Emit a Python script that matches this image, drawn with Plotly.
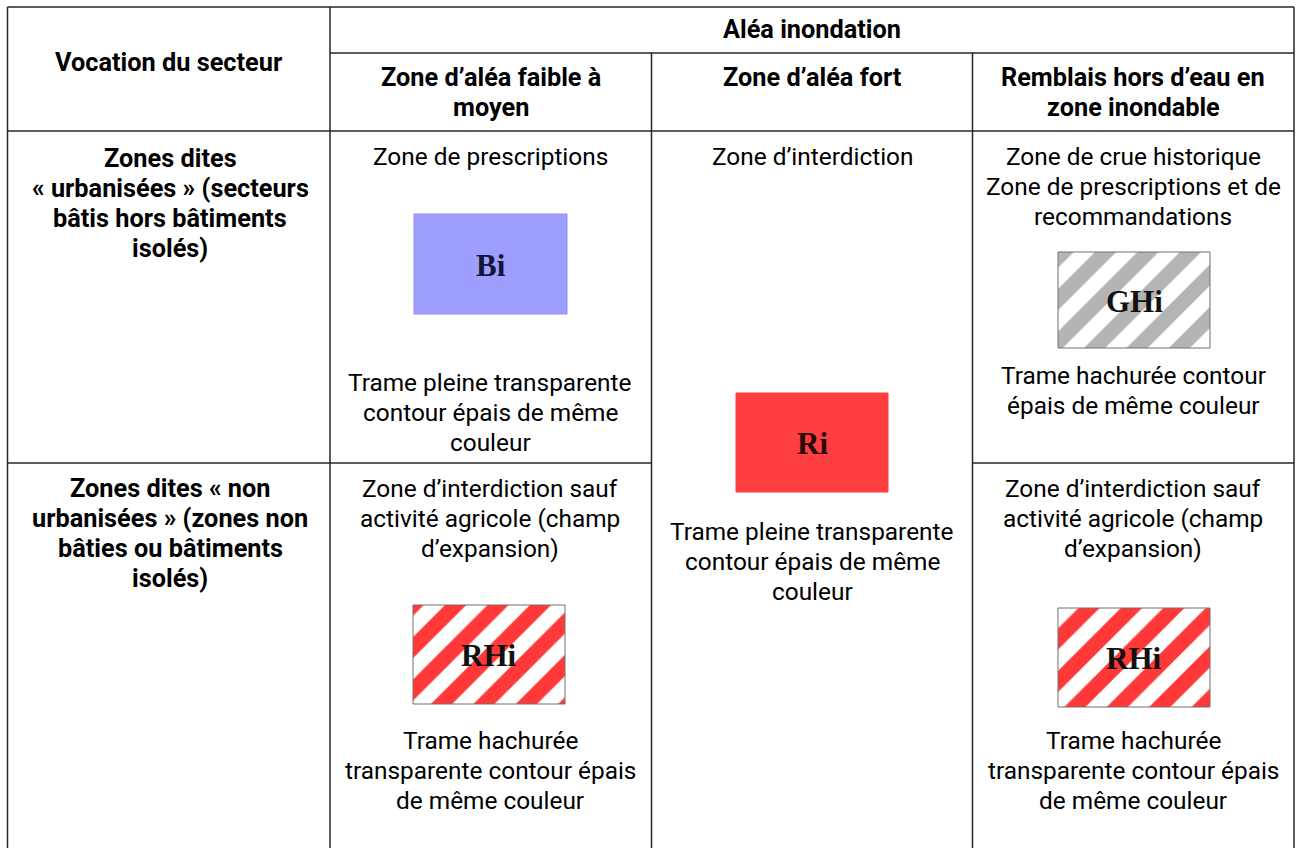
import plotly.graph_objects as go

# ---------------- content (text) ----------------
header_top = "Aléa inondation"
header_first = "Vocation du secteur"
column_headers = [
    ["Zone d’aléa faible à", "moyen"],
    ["Zone d’aléa fort"],
    ["Remblais hors d’eau en", "zone inondable"],
]
row_labels = [
    ["Zones dites", "« urbanisées » (secteurs", "bâtis hors bâtiments", "isolés)"],
    ["Zones dites « non", "urbanisées » (zones non", "bâties ou bâtiments", "isolés)"],
]
cell_titles = {
    "r1c1": ["Zone de prescriptions"],
    "c2": ["Zone d’interdiction"],
    "r1c3": ["Zone de crue historique", "Zone de prescriptions et de", "recommandations"],
    "r2c1": ["Zone d’interdiction sauf", "activité agricole (champ", "d’expansion)"],
    "r2c3": ["Zone d’interdiction sauf", "activité agricole (champ", "d’expansion)"],
}
cell_notes = {
    "r1c1": ["Trame pleine transparente", "contour épais de même", "couleur"],
    "c2": ["Trame pleine transparente", "contour épais de même", "couleur"],
    "r1c3": ["Trame hachurée contour", "épais de même couleur"],
    "r2c1": ["Trame hachurée", "transparente contour épais", "de même couleur"],
    "r2c3": ["Trame hachurée", "transparente contour épais", "de même couleur"],
}
swatch_labels = {"r1c1": "Bi", "c2": "Ri", "r1c3": "GHi", "r2c1": "RHi", "r2c3": "RHi"}

# ---------------- layout / geometry ----------------
W, H = 1296, 848
X_L, X_C1, X_C2, X_C3, X_R = 7.5, 330, 651.5, 972.5, 1294
Y_T, Y_H1, Y_H2, Y_R, Y_B = 7, 53, 131, 463, 860
LINE_H = 30
FONT = "Roboto"
FS = 24.4
FS_B = 25.3

cell_centers = {"r1c1": 490, "c2": 812, "r1c3": 1133, "r2c1": 490, "r2c3": 1133}
title_top = {"r1c1": 156, "c2": 156, "r1c3": 156, "r2c1": 488, "r2c3": 488}
note_top = {"r1c1": 382, "c2": 531, "r1c3": 375, "r2c1": 740, "r2c3": 740}
swatch_box = {
    "r1c1": (414, 567, 214, 314),
    "c2": (736, 888, 393, 492),
    "r1c3": (1058, 1210, 252, 348),
    "r2c1": (413, 565, 605, 704),
    "r2c3": (1058, 1210, 608, 707),
}
swatch_style = {
    "r1c1": dict(kind="solid", color="#9e9eff", line="#8f8ff5"),
    "c2": dict(kind="solid", color="#ff3f3f", line="#ff3f3f"),
    "r1c3": dict(kind="hatch", color="#b4b4b4", line="#707070"),
    "r2c1": dict(kind="hatch", color="#ff3838", line="#707070"),
    "r2c3": dict(kind="hatch", color="#ff3838", line="#707070"),
}
label_color = {"r1c1": "#15153a", "c2": "#2a0a0a", "r1c3": "#111111", "r2c1": "#111111", "r2c3": "#111111"}
row_label_center = 170
row_label_top = [158, 488]

fig = go.Figure()

# swatches
for key, (x0, x1, y0, y1) in swatch_box.items():
    st = swatch_style[key]
    xs = [x0, x1, x1, x0, x0]
    ys = [y0, y0, y1, y1, y0]
    if st["kind"] == "solid":
        fig.add_trace(go.Scatter(x=xs, y=ys, mode="lines", fill="toself",
                                 fillcolor=st["color"], line=dict(color=st["line"], width=1),
                                 hoverinfo="skip", showlegend=False))
    else:
        fig.add_trace(go.Scatter(x=xs, y=ys, mode="lines", fill="toself",
                                 fillcolor="white",
                                 fillpattern=dict(shape="/", fgcolor=st["color"], bgcolor="white",
                                                  fgopacity=1, size=30, solidity=0.5),
                                 line=dict(color=st["line"], width=1),
                                 hoverinfo="skip", showlegend=False))
    fig.add_annotation(x=(x0 + x1) / 2, y=(y0 + y1) / 2 + 1, text="<b>%s</b>" % swatch_labels[key],
                       showarrow=False, font=dict(family="Liberation Serif", size=31,
                                                  color=label_color[key]))

# table lines
def hline(y, xa, xb):
    fig.add_shape(type="line", x0=xa, x1=xb, y0=y, y1=y, line=dict(color="#262626", width=1.5))

def vline(x, ya, yb):
    fig.add_shape(type="line", x0=x, x1=x, y0=ya, y1=yb, line=dict(color="#262626", width=1.5))

hline(Y_T, X_L, X_R)
hline(Y_H1, X_C1, X_R)
hline(Y_H2, X_L, X_R)
hline(Y_R, X_L, X_C2)
hline(Y_R, X_C3, X_R)
vline(X_L, Y_T, Y_B)
vline(X_R, Y_T, Y_B)
vline(X_C1, Y_T, Y_B)
vline(X_C2, Y_H1, Y_B)
vline(X_C3, Y_H1, Y_B)

def txt(x, y, s, bold=False):
    fig.add_annotation(x=x, y=y, text=("<b>%s</b>" % s) if bold else s, showarrow=False,
                       xanchor="center", yanchor="middle",
                       font=dict(family=FONT, size=FS_B if bold else FS, color="#000000"))

# headers
txt((X_C1 + X_R) / 2, 29, header_top, bold=True)
txt((X_L + X_C1) / 2, 62, header_first, bold=True)
hdr_centers = [(X_C1 + X_C2) / 2, (X_C2 + X_C3) / 2, (X_C3 + X_R) / 2]
for cx, lines in zip(hdr_centers, column_headers):
    for i, s in enumerate(lines):
        txt(cx, 77 + i * LINE_H, s, bold=True)

# row labels
for r, lines in enumerate(row_labels):
    for i, s in enumerate(lines):
        txt(row_label_center, row_label_top[r] + i * LINE_H, s, bold=True)

# cell texts
for key in cell_titles:
    cx = cell_centers[key]
    for i, s in enumerate(cell_titles[key]):
        txt(cx, title_top[key] + i * LINE_H, s)
    for i, s in enumerate(cell_notes[key]):
        txt(cx, note_top[key] + i * LINE_H, s)

fig.update_layout(
    width=W, height=H, autosize=False,
    margin=dict(l=0, r=0, t=0, b=0, pad=0),
    paper_bgcolor="white", plot_bgcolor="white",
    xaxis=dict(range=[0, W], visible=False, fixedrange=True),
    yaxis=dict(range=[H, 0], visible=False, fixedrange=True),
    showlegend=False,
)

fig.write_html("out.html", config={"displayModeBar": False},
               post_script="document.body.style.margin='0';")
